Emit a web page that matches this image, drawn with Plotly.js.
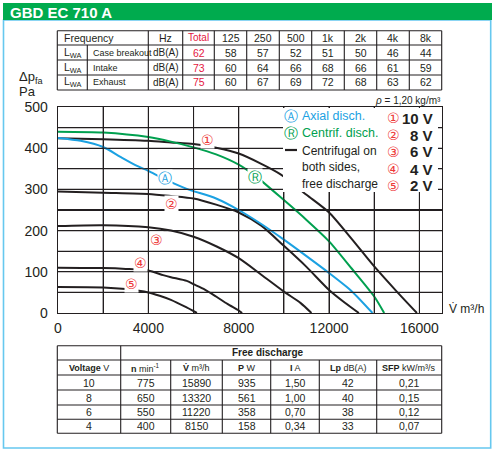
<!DOCTYPE html>
<html><head><meta charset="utf-8">
<script src="https://cdn.plot.ly/plotly-3.0.1.min.js"></script>
<style>html,body{margin:0;padding:0;background:#fff;}#chart{width:495px;height:453px;}</style>
</head><body><div id="chart"></div>
<script>
// ---------------- DATA ----------------
const flow10V = [0,2000,4000,5000,6000,7000,8000,9000,9870,11000,12000,13000,14000,15000,15890];
const pres10V = [424,422,418,414,410,401,387,362,336,287,244,180,113,52,0];
const flow8V  = [0,2000,4000,5000,6000,7000,8000,9000,10000,11000,12000,12700,13320];
const pres8V  = [295,292,289,284,278,263,244,212,163,112,56,25,0];
const flow6V  = [0,2000,4000,5000,6000,7000,8000,9000,10000,10745,11220];
const pres6V  = [211,213,208,200,185,162,133,93,52,24,0];
const flow4V  = [0,2000,3000,4000,4655,5000,5700,6000,6500,7000,7500,8000,8150];
const pres4V  = [110,109,107,103,92,87,78,70,57,40,22,6,0];
const flow2V  = [0,2000,3000,4000,4500,5000,5673,6150];
const pres2V  = [63,62,58,50,42,32,14,0];
const flowAxial = [0,1000,2000,2765,3500,4000,4600,5673,7000,8000,9000,10000,11000,12000,13000,13923];
const presAxial = [425,418,403,379,357,345,328,302,278,250,216,178,138,97,53,0];
const flowCentr = [0,2000,4000,5000,6000,7000,8000,8774,10000,11000,12000,13000,14000,14440];
const presCentr = [440,438,427,416,402,385,360,331,274,226,174,108,40,0];

const xTickVals = [0,2000,4000,6000,8000,10000,12000,14000,16000];
const xTickText = ['0','','4000','','8000','','12000','','16000'];
const yTickVals = [0,50,100,150,200,250,300,350,400,450,500];
const yTickText = ['0','','100','','200','','300','','400','','500'];
const xRange = [0,17000];
const yRange = [0,500];

const freqBands = ['125','250','500','1k','2k','4k','8k'];
const lwaNames  = ['Case breakout','Intake','Exhaust'];
const lwaTotal  = [62,73,75];
const lwaCase   = [58,57,52,51,50,46,44];
const lwaIntake = [60,64,66,68,66,61,59];
const lwaExhaust= [60,67,69,72,68,63,62];

const voltageV = ['10','8','6','4'];
const speedN   = ['775','650','550','400'];
const flowV    = ['15890','13320','11220','8150'];
const powerP   = ['935','561','358','158'];
const currentI = ['1,50','1,00','0,70','0,34'];
const levelLp  = ['42','40','38','33'];
const sfpVals  = ['0,21','0,15','0,12','0,07'];

const curveLabels = ['①','②','③','④','⑤'];
const voltLabels  = ['10 V','8 V','6 V','4 V','2 V'];

// ---------------- LAYOUT HELPERS ----------------
const L=58, R=442, T=107, B=313;
const PX = px => (px-L)/(R-L);
const PY = py => (B-py)/(B-T);
const SANS = '"Liberation Sans",Arial,Helvetica,sans-serif';
const CIRC = '"DejaVu Sans",sans-serif';
const INK = '#231f20', BLUE = '#1ba1e2', GREEN = '#00a04f', RED = '#e5173f', CRED = '#ee3a3a';

const shapes = [], ann = [];
function hline(x0,x1,y,w,c){shapes.push({type:'line',xref:'paper',yref:'paper',x0:PX(x0),x1:PX(x1),y0:PY(y),y1:PY(y),line:{color:c||INK,width:w||1.2},layer:'above'});}
function vline(x,y0,y1,w,c){shapes.push({type:'line',xref:'paper',yref:'paper',x0:PX(x),x1:PX(x),y0:PY(y0),y1:PY(y1),line:{color:c||INK,width:w||1.2},layer:'above'});}
function txt(s,x,y,opt){opt=opt||{};
  ann.push({text:s,xref:'paper',yref:'paper',x:PX(x),y:PY(y),xanchor:opt.xa||'center',yanchor:'middle',showarrow:false,borderpad:0,
  font:{family:opt.f||SANS,size:opt.s||11,color:opt.c||INK,weight:opt.w||'normal'}});}

// grid lines from the tick arrays (paper fractions of the axis ranges)
const fx = v => (v-xRange[0])/(xRange[1]-xRange[0]);
const fy = v => (v-yRange[0])/(yRange[1]-yRange[0]);
xTickVals.slice(1).forEach(v=>shapes.push({type:'line',xref:'paper',yref:'paper',x0:fx(v),x1:fx(v),y0:0,y1:1,line:{color:INK,width:1.1},layer:'above'}));
yTickVals.slice(1,-1).forEach(v=>shapes.push({type:'line',xref:'paper',yref:'paper',x0:0,x1:1,y0:fy(v),y1:fy(v),line:{color:INK,width:1.1},layer:'above'}));

// frame & header
shapes.push({type:'rect',xref:'paper',yref:'paper',x0:PX(3.5),x1:PX(490.7),y0:PY(448),y1:PY(20),line:{color:'#66c8ef',width:1.6},fillcolor:'rgba(0,0,0,0)',layer:'below'});
shapes.push({type:'rect',xref:'paper',yref:'paper',x0:PX(3),x1:PX(492),y0:PY(20),y1:PY(3),line:{width:0},fillcolor:'#00ab4e',layer:'below'});
txt('GBD EC 710 A',9.3,12,{xa:'left',s:15,c:'#ffffff',w:'bold'});

// top table
const tX=[57.3,87.3,148.3,182.7,214.3,246.7,279.3,311.7,344.3,376.7,409.3,441.7];
const tY=[30.7,45,60,75,90];
tY.forEach(y=>hline(tX[0],tX[11],y,1.1));
tX.forEach((x,i)=>{ if(i===1) vline(x,tY[1],tY[4],1.1); else vline(x,tY[0],tY[4],1.1); });
const rc = i => (tY[i]+tY[i+1])/2;
const cc = i => (tX[i]+tX[i+1])/2;
txt('Frequency',63,rc(0),{xa:'left',s:10.5});
txt('Hz',cc(2),rc(0),{s:10.5});
txt('Total',cc(3),rc(0),{c:RED,s:10});
freqBands.forEach((b,i)=>txt(b,cc(4+i),rc(0),{s:10.5}));
const lwaVals=[lwaCase,lwaIntake,lwaExhaust];
lwaNames.forEach((n,r)=>{
  txt('L<sub>WA</sub>',63,rc(r+1),{xa:'left',s:10.5});
  txt(n,92,rc(r+1),{xa:'left',s:9});
  txt('dB(A)',cc(2),rc(r+1),{s:10});
  txt(String(lwaTotal[r]),cc(3),rc(r+1),{c:RED,s:10.5});
  lwaVals[r].forEach((v,i)=>txt(String(v),cc(4+i),rc(r+1),{s:10.5}));
});

// bottom table
const bX=[57.3,120.7,170.7,222.3,270.7,319.3,376.7,441.7];
const bY=[345.7,360,375,390,405,419.3,433.3];
bY.forEach(y=>hline(bX[0],bX[7],y,1.1));
bX.forEach((x,i)=>{ if(i===0||i===1||i===7) vline(x,bY[0],bY[6],1.1); else vline(x,bY[1],bY[6],1.1); });
const brc = i => (bY[i]+bY[i+1])/2;
const bcc = i => (bX[i]+bX[i+1])/2;
txt('<b>Free discharge</b>',268,brc(0),{s:10});
const heads=['<b>Voltage</b> V','<b>n</b> min<sup>-1</sup>','<b>V̇</b> m³/h','<b>P</b> W','<b>I</b> A','<b>Lp</b> dB(A)','<b>SFP</b> kW/m³/s'];
heads.forEach((h,i)=>txt(h,bcc(i),brc(1),{s:9}));
const cols=[voltageV,speedN,flowV,powerP,currentI,levelLp,sfpVals];
for(let r=0;r<4;r++) cols.forEach((c,i)=>txt(c[r],bcc(i),brc(r+2),{s:10.5}));

// axis titles and notes
txt('Δp<sub>fa</sub>',18,77,{xa:'left',s:13});
txt('Pa',18,91,{xa:'left',s:13});
txt('<i>ρ</i> = 1,20 kg/m³',441.7,100.5,{xa:'right',s:10});
txt('V̇ m³/h',447.5,309,{xa:'left',s:12});

// legend white box (drawn after the grid, hides grid and curve behind the legend)
shapes.push({type:'rect',xref:'paper',yref:'paper',x0:PX(283),x1:PX(438),y0:PY(192),y1:PY(108),line:{width:0},fillcolor:'#ffffff',layer:'above'});
txt('Ⓐ',290.5,116,{f:CIRC,s:14,c:BLUE});
txt('Axial disch.',300.7,116,{xa:'left',s:12.5,c:BLUE});
txt('Ⓡ',290.5,132.5,{f:CIRC,s:14,c:GREEN});
txt('Centrif. disch.',300.7,132.5,{xa:'left',s:12.5,c:GREEN});
txt('Centrifugal on',300.7,150.5,{xa:'left',s:12});
txt('both sides,',300.7,167,{xa:'left',s:12});
txt('free discharge',300.7,184,{xa:'left',s:12});
const legY=[118.3,135,151.7,169,185.7];
curveLabels.forEach((c,i)=>{
  txt(c,393.3,legY[i],{f:CIRC,s:14,c:CRED});
  txt(voltLabels[i],433.5,legY[i],{xa:'right',s:15,w:'bold',c:INK});
});
hline(285,297,150,2.2,INK);

// curve labels in data coords
const onCurve=[[6617,419],[5012,264],[4349,177],[3655,121],[3243,70]];
onCurve.forEach((p,i)=>ann.push({text:curveLabels[i],x:p[0],y:p[1],xref:'x',yref:'y',showarrow:false,borderpad:0,bgcolor:'#ffffff',
  font:{family:CIRC,size:14,color:CRED}}));
ann.push({text:'Ⓐ',x:4716,y:327,xref:'x',yref:'y',showarrow:false,borderpad:0,bgcolor:'#ffffff',font:{family:CIRC,size:14,color:BLUE}});
ann.push({text:'Ⓡ',x:8738,y:331,xref:'x',yref:'y',showarrow:false,borderpad:0,bgcolor:'#ffffff',font:{family:CIRC,size:14,color:GREEN}});

// ---------------- TRACES ----------------
function curve(x,y,c){return {type:'scatter',mode:'lines',x:x,y:y,line:{color:c,width:2,shape:'spline',smoothing:0.7},hoverinfo:'skip',showlegend:false};}
const data=[
  curve(flow10V,pres10V,INK),
  curve(flow8V,pres8V,INK),
  curve(flow6V,pres6V,INK),
  curve(flow4V,pres4V,INK),
  curve(flow2V,pres2V,INK),
  curve(flowAxial,presAxial,BLUE),
  curve(flowCentr,presCentr,GREEN)
];

const axisCommon={showgrid:true,gridcolor:INK,gridwidth:1.1,showline:true,mirror:true,linecolor:INK,linewidth:1.3,zeroline:false,ticks:'',
  tickfont:{family:SANS,size:14,color:INK}};
const layout={
  width:495,height:453,margin:{l:L,r:495-R,t:T,b:453-B,pad:0},
  paper_bgcolor:'#ffffff',plot_bgcolor:'#ffffff',showlegend:false,
  xaxis:Object.assign({},axisCommon,{range:xRange,tickmode:'array',tickvals:xTickVals,ticktext:xTickText,ticklabelstandoff:2}),
  yaxis:Object.assign({},axisCommon,{range:yRange,tickmode:'array',tickvals:yTickVals,ticktext:yTickText,ticklabelstandoff:6}),
  shapes:shapes,annotations:ann
};
Plotly.newPlot('chart',data,layout,{staticPlot:true,displayModeBar:false});
</script></body></html>
